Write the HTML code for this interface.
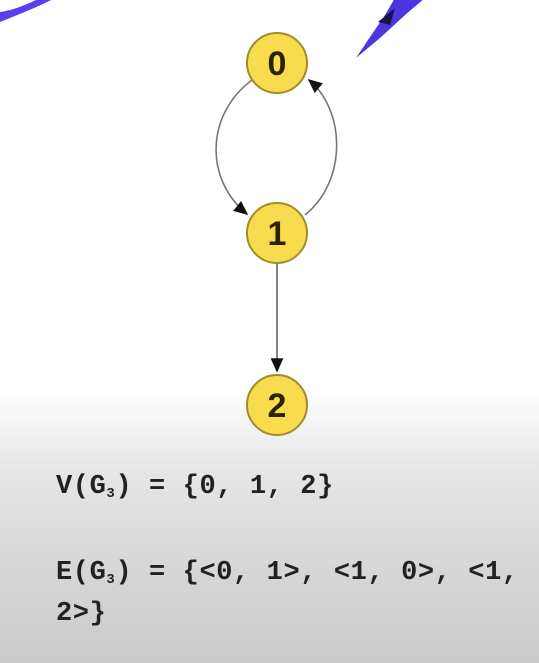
<!DOCTYPE html>
<html><head><meta charset="utf-8"><style>
html,body{margin:0;padding:0}
body{width:539px;height:663px;overflow:hidden;background:linear-gradient(to bottom,#fff 0,#fff 390px,#e6e6e6 470px,#d2d2d2 600px,#cbcbcb 663px);position:relative;font-family:"Liberation Mono",monospace}
.t{position:absolute;left:56px;font-weight:bold;font-size:27px;color:#222;white-space:pre;letter-spacing:0.6px}
sub{font-size:14px;vertical-align:-4px}
</style></head><body>
<svg width="539" height="663" style="position:absolute;left:0;top:0">
<defs><marker id="ar" markerWidth="10" markerHeight="10" refX="8" refY="5" orient="auto"><path d="M0,1 L9,5 L0,9 z" fill="#111"/></marker></defs>
<path d="M0,22 C20,14 40,6 55,-2 L40,-2 C28,4 14,10 0,12 Z" fill="#5b3ef0"/>
<path d="M356,58 L368,40 L385,15 L395,-2 L425,-2 L405,15 L380,38 Z" fill="#4b36e0"/>
<path d="M378,22 L395,8 L390,25 Z" fill="#1a1540"/>
<path d="M252,80 C205,115 205,180 247,214" fill="none" stroke="#777" stroke-width="1.6" marker-end="url(#ar)"/>
<path d="M305,215 C348,180 345,110 309,80" fill="none" stroke="#777" stroke-width="1.6" marker-end="url(#ar)"/>
<line x1="277" y1="263" x2="277" y2="371" stroke="#666" stroke-width="1.6" marker-end="url(#ar)"/>
<g font-family="Liberation Sans, sans-serif" font-size="34" font-weight="bold" text-anchor="middle" fill="#2a2200">
<g><circle cx="277" cy="63" r="30" fill="#f7dc4e" stroke="#a08c2c" stroke-width="2"/><text x="277" y="75">0</text></g>
<g><circle cx="277" cy="233" r="30" fill="#f7dc4e" stroke="#a08c2c" stroke-width="2"/><text x="277" y="245">1</text></g>
<g><circle cx="277" cy="405" r="30" fill="#f7dc4e" stroke="#a08c2c" stroke-width="2"/><text x="277" y="417">2</text></g>
</g>
</svg>
<div class="t" style="top:472px">V(G<sub>3</sub>) = {0, 1, 2}</div>
<div class="t" style="top:556px;line-height:34px">E(G<sub>3</sub>) = {&lt;0, 1&gt;, &lt;1, 0&gt;, &lt;1,
2&gt;}</div>
</body></html>
